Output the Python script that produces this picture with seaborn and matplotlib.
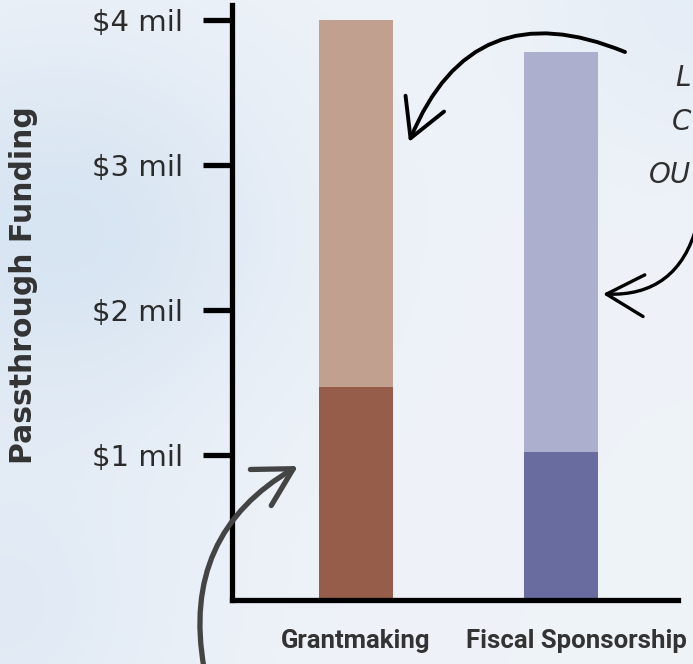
import numpy as np
import pandas as pd
import matplotlib
matplotlib.use("Agg")
import matplotlib.pyplot as plt
import matplotlib.transforms as mtransforms
import seaborn as sns

# chart data (values in millions of dollars)
categories = ["Grantmaking", "Fiscal Sponsorship"]
total_funding = [4.0, 3.78]
inner_funding = [1.47, 1.02]
light_colors = ["#C2A090", "#ACAFCE"]
dark_colors = ["#965E4A", "#686C9F"]
tick_values = [1, 2, 3, 4]
tick_labels = ["$1 mil", "$2 mil", "$3 mil", "$4 mil"]

sns.set_style("white")
plt.rcParams["font.family"] = ["DejaVu Sans"]

W, H = 693, 664
fig = plt.figure(figsize=(W / 100, H / 100), dpi=100)

# soft sky-ish background
bg_ax = fig.add_axes([0, 0, 1, 1], zorder=-10)
yy, xx = np.mgrid[0:H, 0:W]
base = np.array([0.937, 0.953, 0.976])
blue = np.array([0.835, 0.890, 0.945])
weight = (0.9 * np.exp(-(((xx - 60) / 230.0) ** 2 + ((yy - 230) / 200.0) ** 2))
          + 0.5 * np.exp(-(((xx - 0) / 200.0) ** 2 + ((yy - 620) / 180.0) ** 2))
          + 0.35 * np.exp(-(((xx - 693) / 160.0) ** 2 + ((yy - 0) / 160.0) ** 2)))
weight = np.clip(weight, 0, 1)[..., None]
img = base * (1 - weight) + blue * weight
bg_ax.imshow(img, aspect="auto", extent=[0, W, H, 0])
bg_ax.axis("off")

# plotting area in pixel layout
left, right, bottom, top = 232, 678, 600, 5
ax = fig.add_axes([left / W, 1 - bottom / H, (right - left) / W, (bottom - top) / H])
ax.patch.set_alpha(0)

df_total = pd.DataFrame({"cat": categories, "val": total_funding})
df_inner = pd.DataFrame({"cat": categories, "val": inner_funding})

sns.barplot(data=df_total, x="cat", y="val", hue="cat", palette=light_colors,
            saturation=1, width=0.361, legend=False, linewidth=0, ax=ax)
sns.barplot(data=df_inner, x="cat", y="val", hue="cat", palette=dark_colors,
            saturation=1, width=0.361, legend=False, linewidth=0, ax=ax)

ax.set_ylim(0, (bottom - top) / 145.0)
ax.set_xlim(-0.605, 1.571)
ax.set_xlabel("")
ax.set_ylabel("")

for s in ["top", "right"]:
    ax.spines[s].set_visible(False)
for s in ["left", "bottom"]:
    ax.spines[s].set_color("black")
    ax.spines[s].set_linewidth(3.8)

ax.set_yticks(tick_values)
ax.set_yticklabels(tick_labels)
ax.tick_params(axis="y", left=True, length=21, width=3.8, color="black", pad=14,
               labelsize=21, labelcolor="#2b2b2b")
ax.tick_params(axis="x", bottom=False, length=0, pad=21, labelsize=18.5,
               labelcolor="#333333")
for lab in ax.get_xticklabels():
    lab.set_fontweight("bold")
    lab.set_family(["Roboto", "DejaVu Sans"])
# the long label sits a little right of its bar
fiscal = ax.get_xticklabels()[1]
fiscal.set_transform(fiscal.get_transform() +
                     mtransforms.ScaledTranslation(0.15, 0, fig.dpi_scale_trans))

fig.text(24 / W, 1 - 285 / H, "Passthrough Funding", rotation=90, ha="center",
         va="center", fontsize=21.5, fontweight="bold", color="#333333")

# hand drawn arrows
def arrow(a, b, rad, color, lw):
    ax.annotate("", xy=(b[0], H - b[1]), xytext=(a[0], H - a[1]),
                xycoords="figure pixels", textcoords="figure pixels",
                annotation_clip=False,
                arrowprops=dict(arrowstyle="->,head_length=0.9,head_width=0.5",
                                connectionstyle=f"arc3,rad={rad}",
                                mutation_scale=30, color=color, lw=lw,
                                shrinkA=0, shrinkB=0, capstyle="round"))

arrow((625, 52), (409, 142), 0.5, "black", 2.8)
arrow((697, 225), (603, 294), -0.4, "black", 2.4)
arrow((204, 668), (298, 466), -0.35, "#444444", 3.8)

# side note at the right edge
for txt, y in [("L", 78), ("C", 122), ("OU", 175)]:
    fig.text(691 / W, 1 - y / H, txt, ha="right", va="center", fontsize=20,
             style="italic", color="#2f2f2f")

fig.savefig("out.png", dpi=100)
